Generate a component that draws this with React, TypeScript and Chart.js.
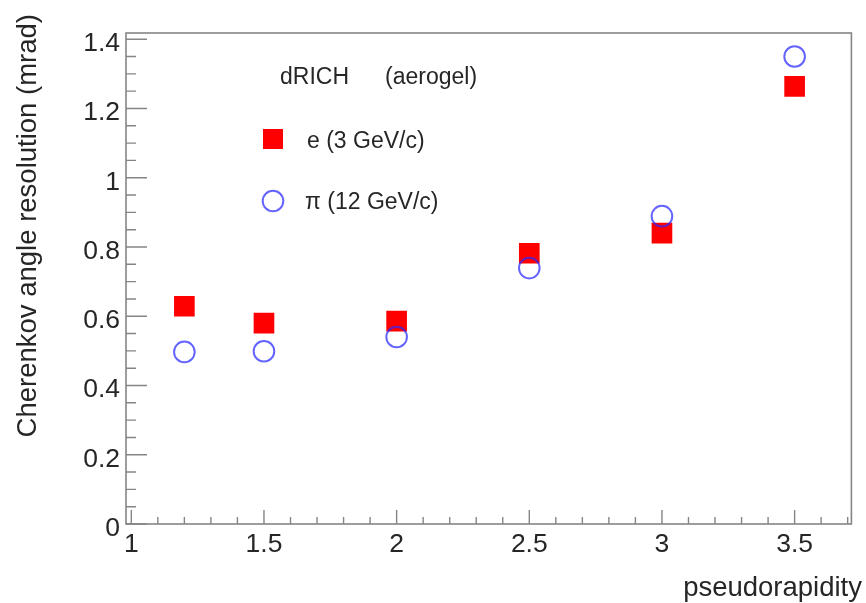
import React, { useEffect, useRef } from "react";
import { Chart, registerables } from "chart.js";

Chart.register(...registerables);

const etaValues = [1.2, 1.5, 2.0, 2.5, 3.0, 3.5];
const electronRes = [0.629, 0.58, 0.586, 0.782, 0.84, 1.264];
const pionRes = [0.497, 0.499, 0.54, 0.739, 0.889, 1.35];
const xTickValues = [1, 1.5, 2, 2.5, 3, 3.5];
const xTickLabels = ["1", "1.5", "2", "2.5", "3", "3.5"];
const yTickValues = [0, 0.2, 0.4, 0.6, 0.8, 1.0, 1.2, 1.4];
const yTickLabels = ["0", "0.2", "0.4", "0.6", "0.8", "1", "1.2", "1.4"];
const xMinorStep = 0.1;
const yMinorStep = 0.05;

const FONT = '"Liberation Sans", Arial, Helvetica, sans-serif';
const TEXT = "#262626";
const AXIS = "#858585";

const rootPlugin = {
  id: "rootStyle",
  afterDraw(chart: any) {
    const ctx = chart.ctx as CanvasRenderingContext2D;
    const { left, right, top, bottom } = chart.chartArea;
    const xs = chart.scales.x;
    const ys = chart.scales.y;
    ctx.save();
    // frame
    ctx.strokeStyle = AXIS;
    ctx.lineWidth = 1.6;
    ctx.strokeRect(left, top, right - left, bottom - top);
    // ticks
    ctx.lineWidth = 1.4;
    ctx.beginPath();
    for (let v = Math.ceil(xs.min / xMinorStep) * xMinorStep; v <= xs.max + 1e-9; v += xMinorStep) {
      const px = xs.getPixelForValue(v);
      const major = xTickValues.some((t) => Math.abs(t - v) < 1e-6);
      const len = major ? 14 : 7;
      ctx.moveTo(px, bottom);
      ctx.lineTo(px, bottom - len);
    }
    for (let v = Math.ceil(ys.min / yMinorStep) * yMinorStep; v <= ys.max + 1e-9; v += yMinorStep) {
      const py = ys.getPixelForValue(v);
      const major = yTickValues.some((t) => Math.abs(t - v) < 1e-6);
      const len = major ? 21 : 10;
      ctx.moveTo(left, py);
      ctx.lineTo(left + len, py);
    }
    ctx.stroke();

    // tick labels
    ctx.fillStyle = TEXT;
    ctx.font = `26.5px ${FONT}`;
    ctx.textAlign = "center";
    ctx.textBaseline = "alphabetic";
    xTickValues.forEach((v, i) => {
      ctx.fillText(xTickLabels[i], xs.getPixelForValue(v), 552);
    });
    ctx.textAlign = "right";
    yTickValues.forEach((v, i) => {
      ctx.fillText(yTickLabels[i], left - 6, ys.getPixelForValue(v) + 12);
    });

    // axis titles
    ctx.font = `27.5px ${FONT}`;
    ctx.textAlign = "right";
    ctx.textBaseline = "alphabetic";
    ctx.fillText("pseudorapidity", 862, 596);
    ctx.save();
    ctx.translate(36, 14);
    ctx.rotate(-Math.PI / 2);
    ctx.textAlign = "right";
    ctx.textBaseline = "alphabetic";
    ctx.fillText("Cherenkov angle resolution (mrad)", 0, 0);
    ctx.restore();

    // legend
    ctx.font = `23px ${FONT}`;
    ctx.textAlign = "left";
    ctx.textBaseline = "alphabetic";
    ctx.fillText("dRICH", 280, 83.5);
    ctx.fillText("(aerogel)", 385, 83.5);
    ctx.fillStyle = "#ff0000";
    ctx.fillRect(263, 129, 20, 20);
    ctx.fillStyle = TEXT;
    ctx.fillText("e (3 GeV/c)", 307, 148);
    ctx.strokeStyle = "rgba(40,40,255,0.72)";
    ctx.lineWidth = 2;
    ctx.beginPath();
    ctx.arc(273, 201, 10.3, 0, Math.PI * 2);
    ctx.stroke();
    ctx.fillStyle = TEXT;
    ctx.fillText("\u03c0 (12 GeV/c)", 305, 208.5);
    ctx.restore();
  },
};

export default function App() {
  const ref = useRef<HTMLCanvasElement | null>(null);
  useEffect(() => {
    document.body.style.margin = "0";
    const canvas = ref.current;
    if (!canvas) return;
    const chart = new Chart(canvas, {
      type: "scatter",
      data: {
        datasets: [
          {
            label: "e (3 GeV/c)",
            data: etaValues.map((x, i) => ({ x, y: electronRes[i] })),
            pointStyle: "rect",
            pointRadius: 14.6,
            pointHoverRadius: 14.6,
            backgroundColor: "#ff0000",
            borderColor: "#ff0000",
            pointBorderWidth: 0,
            order: 1,
          },
          {
            label: "\u03c0 (12 GeV/c)",
            data: etaValues.map((x, i) => ({ x, y: pionRes[i] })),
            pointStyle: "circle",
            pointRadius: 10.3,
            pointHoverRadius: 10.3,
            backgroundColor: "rgba(0,0,0,0)",
            borderColor: "rgba(40,40,255,0.72)",
            pointBorderWidth: 2,
            order: 0,
          },
        ],
      },
      options: {
        responsive: false,
        animation: false,
        events: [],
        layout: { padding: { left: 0, right: 11, top: 33, bottom: 0 } },
        plugins: { legend: { display: false }, title: { display: false }, tooltip: { enabled: false } },
        scales: {
          x: {
            type: "linear",
            min: 0.98,
            max: 3.714,
            grid: { display: false, drawTicks: false },
            border: { display: false },
            ticks: { display: false },
            afterFit: (s: any) => {
              s.height = 79;
            },
          },
          y: {
            type: "linear",
            min: 0,
            max: 1.418,
            grid: { display: false, drawTicks: false },
            border: { display: false },
            ticks: { display: false },
            afterFit: (s: any) => {
              s.width = 126;
            },
          },
        },
      },
      plugins: [rootPlugin],
    });
    return () => chart.destroy();
  }, []);
  return (
    <div style={{ width: 866, height: 603 }}>
      <canvas ref={ref} width={866} height={603} style={{ display: "block" }} />
    </div>
  );
}
